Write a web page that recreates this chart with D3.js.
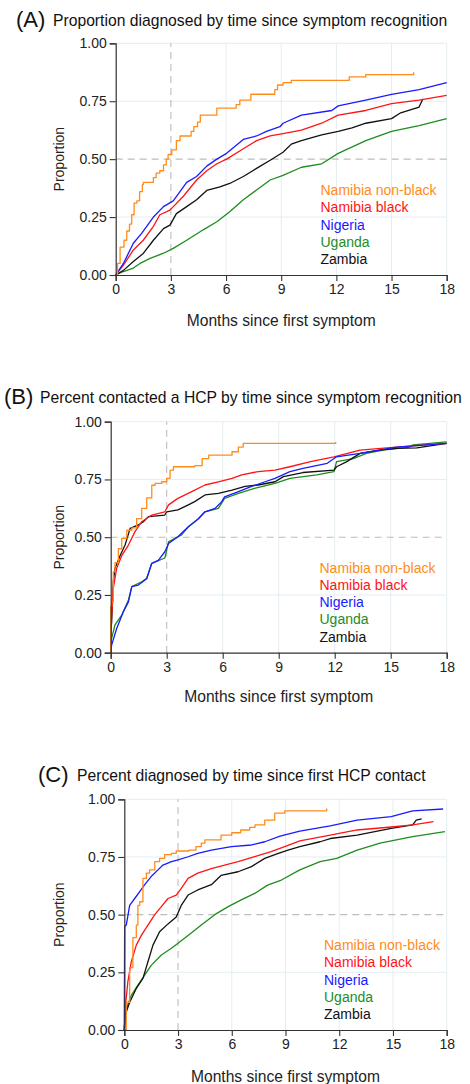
<!DOCTYPE html>
<html>
<head>
<meta charset="utf-8">
<script src="https://cdn.jsdelivr.net/npm/d3@7/dist/d3.min.js"></script>
<style>
  html, body { margin: 0; padding: 0; background: #fff; }
  svg { display: block; font-family: "Liberation Sans", Arial, sans-serif; }
</style>
</head>
<body>
<svg id="chart" width="470" height="1084"></svg>
<script>
// ---------------- DATA ----------------
const seriesNames = ["Namibia non-black", "Namibia black", "Nigeria", "Uganda", "Zambia"];
const seriesColors = ["#ff8c1a", "#ff1414", "#1a1aff", "#1e8c1e", "#111111"];
const xTicks = [0, 3, 6, 9, 12, 15, 18];
const yTicks = [0, 0.25, 0.5, 0.75, 1.0];
const panelLetters = ["(A)", "(B)", "(C)"];
const panelTitles = [
  "Proportion diagnosed by time since symptom recognition",
  "Percent contacted a HCP by time since symptom recognition",
  "Percent diagnosed by time since first HCP contact"
];
const xAxisTitle = "Months since first symptom";
const yAxisTitle = "Proportion";

// Panel A: [months, proportion]
const A_nonblack = [[0,0],[0.1,0.05],[0.24,0.12],[0.45,0.15],[0.6,0.19],[0.75,0.22],[0.87,0.26],[1.0,0.31],[1.15,0.32],[1.3,0.36],[1.45,0.39],[1.5,0.40],[2.05,0.42],[2.2,0.44],[2.4,0.45],[2.6,0.475],[2.75,0.5],[2.85,0.52],[3.05,0.54],[3.3,0.58],[3.5,0.60],[4.1,0.62],[4.25,0.64],[4.45,0.66],[4.6,0.69],[5.5,0.72],[6.55,0.735],[6.75,0.755],[7.35,0.78],[8.65,0.80],[8.8,0.82],[9.1,0.83],[9.55,0.84],[12.7,0.855],[13.6,0.865],[16.2,0.875]];
const A_black = [[0,0],[0.42,0.043],[0.96,0.108],[1.5,0.15],[2.05,0.21],[2.4,0.26],[2.95,0.28],[3.68,0.34],[4.4,0.41],[4.95,0.45],[5.5,0.48],[6.03,0.50],[6.94,0.545],[7.66,0.58],[8.4,0.60],[9.1,0.61],[10.1,0.625],[11.2,0.655],[12.1,0.69],[13.6,0.71],[15,0.74],[16.5,0.755],[18,0.775]];
const A_nigeria = [[0,0],[0.42,0.05],[0.96,0.137],[1.41,0.18],[2.05,0.25],[2.6,0.295],[3.13,0.32],[3.86,0.40],[4.4,0.425],[4.95,0.47],[5.5,0.50],[6.03,0.525],[6.94,0.585],[7.66,0.60],[8.2,0.62],[8.93,0.64],[9.1,0.655],[10.1,0.69],[11.75,0.71],[12.1,0.73],[13.6,0.755],[15,0.78],[16.5,0.80],[18,0.83]];
const A_uganda = [[0,0],[0.42,0.015],[0.96,0.03],[1.32,0.05],[1.87,0.072],[2.6,0.094],[3.13,0.115],[3.86,0.15],[4.76,0.195],[5.5,0.23],[6.2,0.273],[6.94,0.325],[7.66,0.367],[8.4,0.41],[9.1,0.43],[10.1,0.465],[11.2,0.48],[12.1,0.525],[13.6,0.58],[15,0.62],[16.5,0.645],[18,0.675]];
const A_zambia = [[0,0],[0.42,0.02],[0.96,0.058],[1.5,0.093],[2.05,0.15],[2.6,0.20],[2.95,0.215],[3.3,0.265],[3.86,0.295],[4.4,0.325],[4.95,0.365],[5.67,0.38],[6.2,0.395],[6.94,0.425],[7.66,0.46],[8.4,0.495],[9.1,0.53],[9.55,0.565],[10.1,0.58],[11.2,0.605],[12.1,0.62],[12.85,0.635],[13.6,0.655],[15,0.675],[15.5,0.70],[16.5,0.725],[16.7,0.76]];

// Panel B
const B_nonblack = [[0,0],[0,0.2],[0.05,0.22],[0.14,0.35],[0.23,0.39],[0.41,0.45],[0.59,0.495],[0.86,0.53],[1.13,0.54],[1.39,0.58],[1.66,0.625],[1.93,0.67],[2.2,0.725],[2.38,0.733],[2.73,0.74],[3.0,0.755],[3.18,0.79],[3.36,0.805],[4.5,0.81],[4.9,0.84],[5.25,0.855],[6.5,0.87],[6.84,0.89],[7.1,0.906],[12.05,0.912]];
const B_black = [[0,0],[0,0.1],[0.05,0.16],[0.14,0.28],[0.32,0.365],[0.59,0.42],[0.95,0.466],[1.3,0.524],[1.66,0.567],[2.2,0.596],[2.9,0.61],[3.1,0.64],[3.6,0.668],[4.34,0.697],[5.05,0.726],[5.77,0.74],[6.5,0.755],[7.02,0.77],[7.9,0.784],[8.8,0.79],[9.6,0.805],[10.7,0.827],[11.96,0.848],[13.36,0.877],[14.8,0.887],[16.4,0.896],[18,0.906]];
const B_nigeria = [[0,0],[0.05,0.033],[0.32,0.105],[0.68,0.177],[0.95,0.22],[1.13,0.286],[1.48,0.293],[1.93,0.32],[2.2,0.387],[2.55,0.40],[2.9,0.437],[3.1,0.473],[3.6,0.502],[4.16,0.545],[4.7,0.58],[5.05,0.61],[5.6,0.625],[5.95,0.654],[6.1,0.675],[6.84,0.697],[7.55,0.72],[8.27,0.74],[8.8,0.755],[9.6,0.784],[10.3,0.798],[11.6,0.82],[12.1,0.848],[13.36,0.863],[15.3,0.89],[18,0.906]];
const B_uganda = [[0,0],[0,0.03],[0.05,0.062],[0.23,0.12],[0.59,0.163],[0.95,0.228],[1.13,0.286],[1.66,0.307],[1.93,0.322],[2.2,0.387],[2.9,0.41],[3.1,0.48],[3.8,0.51],[4.16,0.545],[4.7,0.58],[5.05,0.61],[5.77,0.625],[6.1,0.668],[6.84,0.69],[7.7,0.711],[8.8,0.733],[9.6,0.755],[11.04,0.77],[11.96,0.784],[12.1,0.827],[13,0.84],[13.7,0.863],[14.6,0.877],[16.0,0.89],[16.2,0.90],[18,0.913]];
const B_zambia = [[0,0],[0,0.1],[0.05,0.13],[0.14,0.31],[0.23,0.365],[0.5,0.42],[0.77,0.466],[1.04,0.538],[1.48,0.553],[1.75,0.567],[2.02,0.589],[2.9,0.596],[3.0,0.61],[3.6,0.618],[4.16,0.64],[4.5,0.654],[5.05,0.683],[5.77,0.69],[6.5,0.704],[7.2,0.72],[7.9,0.726],[8.8,0.74],[9.25,0.762],[10.3,0.78],[11.96,0.79],[12.1,0.805],[12.65,0.827],[13.36,0.863],[14.4,0.877],[15.3,0.885],[16.4,0.887],[18,0.906]];

// Panel C
const C_nonblack = [[0,0],[0.11,0.12],[0.3,0.27],[0.48,0.40],[0.67,0.455],[0.76,0.54],[0.86,0.556],[1.04,0.657],[1.23,0.68],[1.41,0.694],[1.7,0.73],[1.97,0.744],[2.25,0.76],[2.63,0.766],[2.9,0.776],[3.6,0.78],[4.0,0.795],[4.3,0.81],[4.5,0.824],[5.4,0.845],[6.0,0.855],[6.5,0.867],[7.0,0.878],[7.3,0.889],[7.84,0.91],[8.4,0.94],[8.96,0.95],[11.3,0.96]];
const C_black = [[0,0],[0.05,0.094],[0.2,0.21],[0.39,0.296],[0.67,0.368],[0.95,0.41],[1.32,0.455],[1.7,0.50],[2.07,0.535],[2.44,0.57],[2.9,0.585],[3.18,0.614],[3.56,0.657],[4.1,0.68],[4.86,0.70],[5.6,0.715],[6.35,0.73],[7.28,0.751],[8.2,0.773],[9.14,0.80],[9.8,0.82],[11.5,0.845],[13,0.867],[14.9,0.88],[16.1,0.889],[17.26,0.903]];
const C_nigeria = [[0,0],[0.02,0.448],[0.11,0.455],[0.3,0.54],[0.58,0.57],[0.86,0.60],[1.14,0.63],[1.5,0.665],[1.88,0.694],[2.16,0.715],[2.63,0.73],[3.0,0.737],[3.56,0.751],[4.1,0.766],[4.86,0.78],[5.98,0.795],[7.1,0.802],[7.84,0.816],[8.7,0.84],[9.8,0.862],[11.5,0.885],[13,0.91],[14.9,0.925],[16.1,0.95],[17.8,0.958]];
const C_uganda = [[0,0],[0.05,0.08],[0.39,0.15],[0.76,0.195],[1.14,0.238],[1.5,0.28],[2.07,0.325],[2.63,0.354],[3.0,0.376],[3.56,0.41],[4.3,0.455],[5.05,0.50],[5.8,0.535],[6.53,0.564],[7.28,0.592],[8.0,0.628],[8.77,0.65],[9.8,0.694],[10.93,0.73],[11.86,0.744],[13,0.78],[14.28,0.81],[16.1,0.838],[17.9,0.86]];
const C_zambia = [[0,0],[0.05,0.065],[0.3,0.12],[0.67,0.18],[1.04,0.224],[1.32,0.296],[1.6,0.368],[1.97,0.426],[2.44,0.46],[2.9,0.49],[3.18,0.54],[3.56,0.585],[4.1,0.607],[4.86,0.63],[5.4,0.67],[6.35,0.686],[7.1,0.708],[7.84,0.744],[8.6,0.766],[9.14,0.78],[9.8,0.795],[10.93,0.816],[11.5,0.83],[13,0.845],[14.9,0.874],[16.1,0.889],[16.3,0.91],[16.6,0.915]];

// ---------------- LAYOUT ----------------
const panels = [
  { series: [A_nonblack, A_black, A_nigeria, A_uganda, A_zambia],
    left: 115.7, right: 446.7, top: 43.3, bottom: 275,
    letterX: 16, titleX: 53, titleY: 26,
    xTitleY: 326, yTitleX: 64,
    legendX: 320.5, legendY: 195 },
  { series: [B_nonblack, B_black, B_nigeria, B_uganda, B_zambia],
    left: 110.7, right: 446.7, top: 421.7, bottom: 652.7,
    letterX: 4, titleX: 40, titleY: 402.5,
    xTitleY: 702, yTitleX: 64,
    legendX: 319.5, legendY: 572.7 },
  { series: [C_nonblack, C_black, C_nigeria, C_uganda, C_zambia],
    left: 124.3, right: 446.7, top: 799.3, bottom: 1030,
    letterX: 38, titleX: 77, titleY: 780.5,
    xTitleY: 1082, yTitleX: 64,
    legendX: 324, legendY: 950 }
];
const stepSeries = [0]; // non-black curves drawn as visible staircases

const svg = d3.select("#chart");

panels.forEach((p, pi) => {
  const x = d3.scaleLinear().domain([0, 18]).range([p.left, p.right]);
  const y = d3.scaleLinear().domain([0, 1]).range([p.bottom, p.top]);
  const g = svg.append("g");

  // title
  g.append("text").attr("x", p.letterX).attr("y", p.titleY + 1)
    .attr("font-size", 22).attr("fill", "#111").text(panelLetters[pi]);
  g.append("text").attr("x", p.titleX).attr("y", p.titleY)
    .attr("font-size", 15.7).attr("fill", "#111").text(panelTitles[pi]);

  // grid
  const gridC = "#e4edf1";
  g.selectAll(".hg").data(yTicks.filter(v => v !== 0 && v !== 0.5)).enter().append("line")
    .attr("x1", x(0)).attr("x2", x(18)).attr("y1", d => y(d)).attr("y2", d => y(d))
    .attr("stroke", gridC).attr("stroke-width", 1);
  g.selectAll(".vg").data(xTicks.filter(v => v > 3)).enter().append("line")
    .attr("x1", d => x(d)).attr("x2", d => x(d)).attr("y1", y(0)).attr("y2", y(1))
    .attr("stroke", gridC).attr("stroke-width", 1);
  // reference dashed lines
  g.append("line").attr("x1", x(0)).attr("x2", x(18)).attr("y1", y(0.5)).attr("y2", y(0.5))
    .attr("stroke", "#bdbdbd").attr("stroke-width", 1.1).attr("stroke-dasharray", "7,5");
  g.append("line").attr("x1", x(3)).attr("x2", x(3)).attr("y1", y(0)).attr("y2", y(1))
    .attr("stroke", "#bdbdbd").attr("stroke-width", 1.1).attr("stroke-dasharray", "7,5");

  // curves (draw Uganda, Zambia, Namibia black, Nigeria, non-black)
  const order = [3, 4, 1, 2, 0];
  order.forEach(si => {
    const line = d3.line().x(d => x(d[0])).y(d => y(d[1]))
      .curve(stepSeries.includes(si) ? d3.curveStepAfter : d3.curveLinear);
    g.append("path").datum(p.series[si]).attr("d", line)
      .attr("fill", "none").attr("stroke", seriesColors[si]).attr("stroke-width", 1.3)
      .attr("stroke-linejoin", "round");
  });

  // axes
  const ax = g.append("g").attr("transform", `translate(0,${y(0)})`)
    .call(d3.axisBottom(x).tickValues(xTicks).tickSize(6).tickPadding(3).tickFormat(d3.format("d")));
  const ay = g.append("g").attr("transform", `translate(${x(0)},0)`)
    .call(d3.axisLeft(y).tickValues(yTicks).tickSize(6).tickPadding(3).tickFormat(d3.format(".2f")));
  [ax, ay].forEach(a => {
    a.select(".domain").attr("stroke", "#333").attr("stroke-width", 1.2);
    a.selectAll(".tick line").attr("stroke", "#333").attr("stroke-width", 1.1);
    a.selectAll(".tick text").attr("fill", "#222").attr("font-size", 14)
      .attr("font-family", "'Liberation Sans', Arial, sans-serif");
  });

  // axis titles
  g.append("text").attr("x", (p.left + p.right) / 2).attr("y", p.xTitleY)
    .attr("text-anchor", "middle").attr("font-size", 15.6).attr("fill", "#222").text(xAxisTitle);
  g.append("text")
    .attr("transform", `translate(${p.yTitleX},${(p.top + p.bottom) / 2}) rotate(-90)`)
    .attr("text-anchor", "middle").attr("font-size", 14).attr("fill", "#222").text(yAxisTitle);

  // legend
  seriesNames.forEach((nm, i) => {
    g.append("text").attr("x", p.legendX).attr("y", p.legendY + i * 17.25)
      .attr("font-size", 14).attr("fill", seriesColors[i]).text(nm);
  });
});
</script>
</body>
</html>
